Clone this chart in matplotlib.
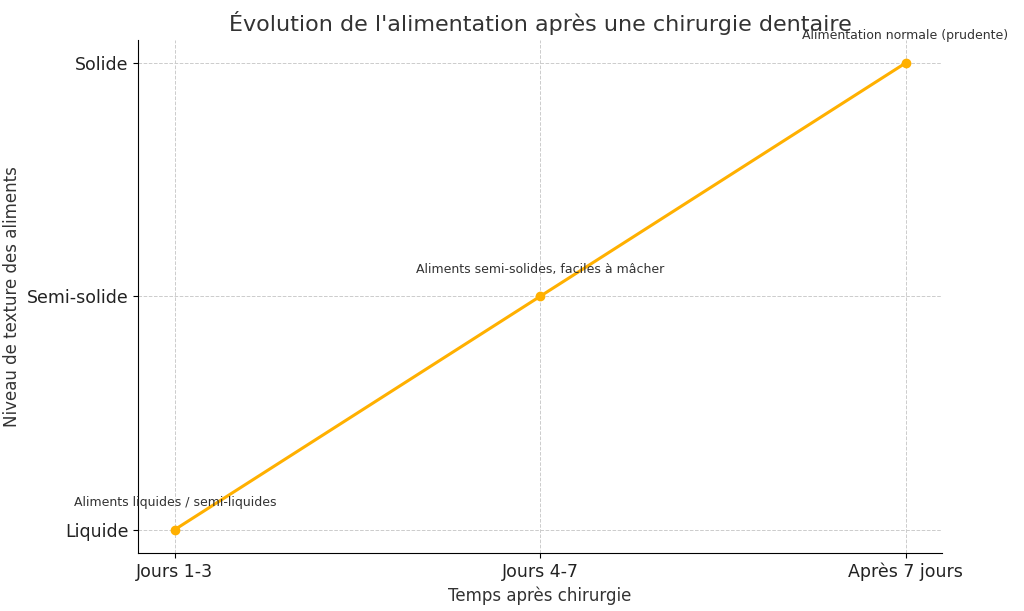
import matplotlib
matplotlib.use("Agg")
import matplotlib.pyplot as plt

categories = ["Jours 1-3", "Jours 4-7", "Après 7 jours"]
levels = [1, 2, 3]
level_labels = ["Liquide", "Semi-solide", "Solide"]
annotations = ["Aliments liquides / semi-liquides", "Aliments semi-solides, faciles à mâcher", "Alimentation normale (prudente)"]

fig, ax = plt.subplots(figsize=(10.24, 6.11), dpi=100)
x = list(range(len(categories)))
ax.plot(x, levels, marker="o", color="#FFB000", linewidth=2.2, markersize=6)
for xi, yi, t in zip(x, levels, annotations):
    ax.annotate(t, (xi, yi), xytext=(0, 17), textcoords="offset points", ha="center", fontsize=9, color="#333333")
ax.set_xticks(x)
ax.set_xticklabels(categories, fontsize=12.5, color="#222222")
ax.set_yticks(levels)
ax.set_yticklabels(level_labels, fontsize=12.5, color="#222222")
ax.set_xlim(-0.1, 2.1)
ax.set_ylim(0.9, 3.1)
ax.grid(True, linestyle="--", color="#cccccc", linewidth=0.7)
ax.spines["top"].set_visible(False)
ax.spines["right"].set_visible(False)
ax.set_xlabel("Temps après chirurgie", fontsize=12, color="#333333")
ax.set_ylabel("Niveau de texture des aliments", fontsize=12, color="#333333")
ax.set_title("Évolution de l'alimentation après une chirurgie dentaire", fontsize=16, color="#333333")
fig.subplots_adjust(left=0.135, right=0.92, top=0.935, bottom=0.095)
fig.savefig("out.png")
